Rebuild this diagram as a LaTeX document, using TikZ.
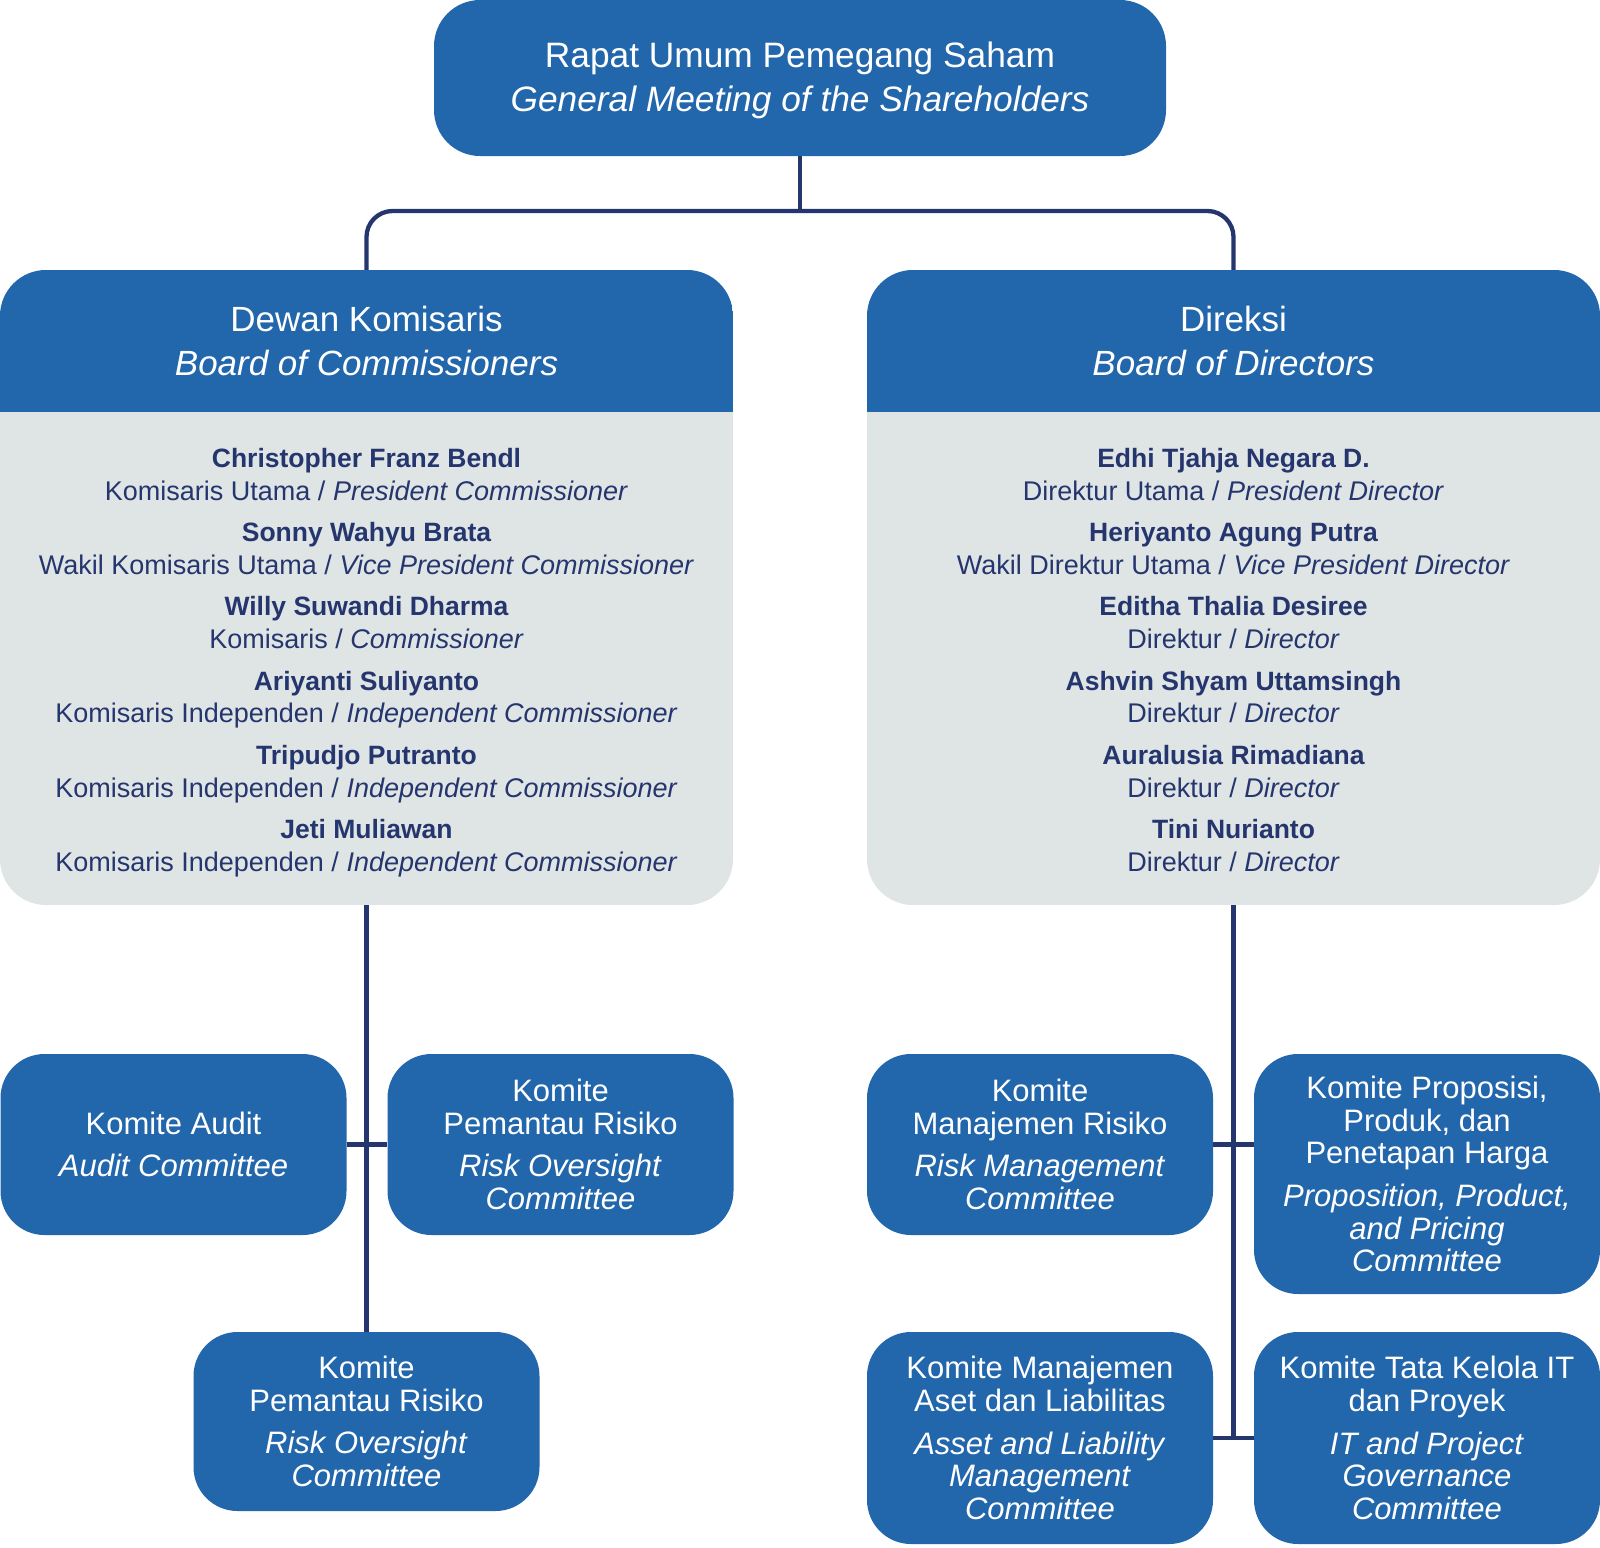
\documentclass[tikz,border=0pt]{standalone}
\usepackage{fontspec}
\setmainfont{Liberation Sans}
\definecolor{boxblue}{RGB}{34,102,172}
\definecolor{boxgray}{RGB}{223,228,228}
\definecolor{navy}{RGB}{37,53,110}
\begin{document}
\begin{tikzpicture}[x=1pt,y=-1pt,
  bluebox/.style={fill=boxblue, rounded corners=44pt, text=white, align=center, inner sep=0pt},
  comm/.style={bluebox, minimum width=346pt, font=\fontsize{31}{32.7}\selectfont},
  board/.style={fill=boxgray, rounded corners=46pt, minimum width=733pt, minimum height=635pt, inner sep=0pt},
  headtxt/.style={text=white, align=center, inner sep=0pt, font=\fontsize{35}{43.5}\selectfont},
  mname/.style={font=\fontsize{26.5}{32}\selectfont\bfseries, text=navy, text height=19pt, text depth=5.5pt, inner sep=0pt},
  mrole/.style={font=\fontsize{27}{32}\selectfont, text=navy, text height=19pt, text depth=5.5pt, inner sep=0pt},
  conn/.style={draw=navy, line width=4.3pt}]
\useasboundingbox (0,0) rectangle (1600,1547);

% top
\node[bluebox, rounded corners=46pt, minimum width=732pt, minimum height=156pt] (rups) at (800,78) {};
\node[headtxt, font=\fontsize{35.3}{44}\selectfont] (rupsT) at (800,80)
  {Rapat Umum Pemegang Saham\\\textit{General Meeting of the Shareholders}};

% boards
\node[board] (boc) at (366.5,587.5) {};
\node[board] (bod) at (1233.5,587.5) {};
\begin{scope}
  \clip[rounded corners=46pt] (0,270) rectangle (733,905);
  \fill[boxblue] (0,270) rectangle (733,412);
\end{scope}
\begin{scope}
  \clip[rounded corners=46pt] (867,270) rectangle (1600,905);
  \fill[boxblue] (867,270) rectangle (1600,412);
\end{scope}
\node[headtxt] (bocH) at (366.5,341) {Dewan Komisaris\\\textit{Board of Commissioners}};
\node[headtxt] (bodH) at (1233.5,341) {Direksi\\\textit{Board of Directors}};

% commissioners
\node[mname] (bn1) at (366.5,461) {Christopher Franz Bendl};
\node[mrole] (br1) at (366.5,494) {Komisaris Utama / \textit{President Commissioner}};
\node[mname] (bn2) at (366.5,535) {Sonny Wahyu Brata};
\node[mrole] (br2) at (366.5,568) {Wakil Komisaris Utama / \textit{Vice President Commissioner}};
\node[mname] (bn3) at (366.5,609) {Willy Suwandi Dharma};
\node[mrole] (br3) at (366.5,642) {Komisaris / \textit{Commissioner}};
\node[mname] (bn4) at (366.5,684) {Ariyanti Suliyanto};
\node[mrole] (br4) at (366.5,716) {Komisaris Independen / \textit{Independent Commissioner}};
\node[mname] (bn5) at (366.5,758) {Tripudjo Putranto};
\node[mrole] (br5) at (366.5,791) {Komisaris Independen / \textit{Independent Commissioner}};
\node[mname] (bn6) at (366.5,832) {Jeti Muliawan};
\node[mrole] (br6) at (366.5,865) {Komisaris Independen / \textit{Independent Commissioner}};

% directors
\node[mname] (dn1) at (1233.5,461) {Edhi Tjahja Negara D.};
\node[mrole] (dr1) at (1233.5,494) {Direktur Utama / \textit{President Director}};
\node[mname] (dn2) at (1233.5,535) {Heriyanto Agung Putra};
\node[mrole] (dr2) at (1233.5,568) {Wakil Direktur Utama / \textit{Vice President Director}};
\node[mname] (dn3) at (1233.5,609) {Editha Thalia Desiree};
\node[mrole] (dr3) at (1233.5,642) {Direktur / \textit{Director}};
\node[mname] (dn4) at (1233.5,684) {Ashvin Shyam Uttamsingh};
\node[mrole] (dr4) at (1233.5,716) {Direktur / \textit{Director}};
\node[mname] (dn5) at (1233.5,758) {Auralusia Rimadiana};
\node[mrole] (dr5) at (1233.5,791) {Direktur / \textit{Director}};
\node[mname] (dn6) at (1233.5,832) {Tini Nurianto};
\node[mrole] (dr6) at (1233.5,865) {Direktur / \textit{Director}};

% committees
\node[comm, minimum height=181pt] (aud) at (173.5,1144.5)
  {Komite Audit\\[10pt]\textit{Audit Committee}};
\node[comm, minimum height=181pt] (rot) at (560.5,1144.5)
  {Komite\\Pemantau Risiko\\[10pt]\textit{Risk Oversight}\\\textit{Committee}};
\node[comm, minimum height=179pt] (rot2) at (366.5,1421.5)
  {Komite\\Pemantau Risiko\\[10pt]\textit{Risk Oversight}\\\textit{Committee}};
\node[comm, minimum height=181pt] (rmc) at (1040,1144.5)
  {Komite\\Manajemen Risiko\\[10pt]\textit{Risk Management}\\\textit{Committee}};
\node[comm, minimum height=240pt] (ppp) at (1427,1174)
  {Komite Proposisi,\\Produk, dan\\Penetapan Harga\\[10pt]\textit{Proposition, Product,}\\\textit{and Pricing}\\\textit{Committee}};
\node[comm, minimum height=212pt] (alm) at (1040,1438)
  {Komite Manajemen\\Aset dan Liabilitas\\[10pt]\textit{Asset and Liability}\\\textit{Management}\\\textit{Committee}};
\node[comm, minimum height=212pt] (itc) at (1427,1438)
  {Komite Tata Kelola IT\\dan Proyek\\[10pt]\textit{IT and Project}\\\textit{Governance}\\\textit{Committee}};

% connectors
\coordinate (bus) at (800,211);
\draw[conn] (rups.south) -- (bus);
\draw[conn, rounded corners=26pt] (boc.north) -- (boc.north |- bus) -- (bod.north |- bus) -- (bod.north);
\draw[conn] (boc.south) -- (rot2.north);
\draw[conn] (aud.east) -- (rot.west);
\draw[conn] (bod.south) -- (bod.south |- alm.east);
\draw[conn] (rmc.east) -- (rmc.east -| ppp.west);
\draw[conn] (alm.east) -- (itc.west);
\end{tikzpicture}
\end{document}
